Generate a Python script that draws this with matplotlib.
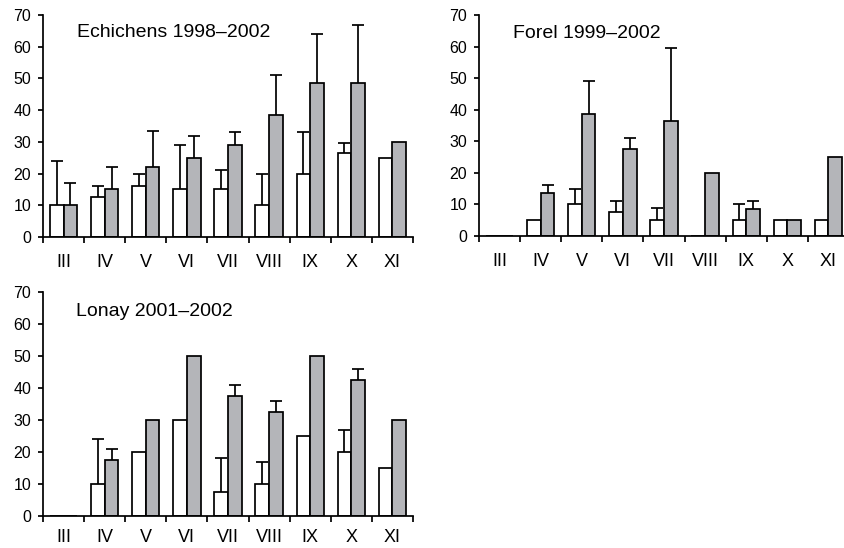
import numpy as np
import matplotlib
matplotlib.use("Agg")
import matplotlib.pyplot as plt

months = ["III", "IV", "V", "VI", "VII", "VIII", "IX", "X", "XI"]

# Echichens 1998–2002
ech_white = [10, 12.5, 16, 15, 15, 10, 20, 26.5, 25]
ech_white_top = [24, 16, 20, 29, 21, 20, 33, 29.5, np.nan]
ech_gray = [10, 15, 22, 25, 29, 38.5, 48.5, 48.5, 30]
ech_gray_top = [17, 22, 33.5, 32, 33, 51, 64, 67, np.nan]

# Forel 1999–2002
for_white = [0, 5, 10, 7.5, 5, 0, 5, 5, 5]
for_white_top = [np.nan, np.nan, 15, 11, 9, np.nan, 10, np.nan, np.nan]
for_gray = [0, 13.5, 38.5, 27.5, 36.5, 20, 8.5, 5, 25]
for_gray_top = [np.nan, 16, 49, 31, 59.5, np.nan, 11, np.nan, np.nan]

# Lonay 2001–2002
lon_white = [0, 10, 20, 30, 7.5, 10, 25, 20, 15]
lon_white_top = [np.nan, 24, np.nan, np.nan, 18, 17, np.nan, 27, np.nan]
lon_gray = [0, 17.5, 30, 50, 37.5, 32.5, 50, 42.5, 30]
lon_gray_top = [np.nan, 21, np.nan, np.nan, 41, 36, np.nan, 46, np.nan]

titles = ["Echichens 1998\u20132002", "Forel 1999\u20132002", "Lonay 2001\u20132002"]
yticks = [0, 10, 20, 30, 40, 50, 60, 70]

GRAY = "#b4b5b9"
plt.rcParams["font.family"] = ["Liberation Sans", "DejaVu Sans"]

fig = plt.figure(figsize=(8.44, 5.48), dpi=100)
W, H = 844, 548


def add_axes(left_px, right_px, top_px, bottom_px):
    return fig.add_axes([left_px / W, 1 - bottom_px / H,
                         (right_px - left_px) / W, (bottom_px - top_px) / H])


axes = [add_axes(43, 413, 15, 237), add_axes(479, 849, 15, 236), add_axes(43, 413, 292, 516)]
data = [
    (ech_white, ech_white_top, ech_gray, ech_gray_top),
    (for_white, for_white_top, for_gray, for_gray_top),
    (lon_white, lon_white_top, lon_gray, lon_gray_top),
]
title_pos = [(0.091, 0.902), (0.093, 0.896), (0.090, 0.893)]
xpads = [12, 12, 9.5]

bw = 1 / 3
x = np.arange(len(months))
LW = 1.25

for ax, (w, wt, g, gt), title, tp, xpad in zip(axes, data, titles, title_pos, xpads):
    ax.bar(x - bw / 2, w, width=bw, color="white", edgecolor="black", linewidth=LW, zorder=2)
    ax.bar(x + bw / 2, g, width=bw, color=GRAY, edgecolor="black", linewidth=LW, zorder=2)
    for off, vals, tops in [(-bw / 2, w, wt), (bw / 2, g, gt)]:
        vals = np.asarray(vals, float)
        tops = np.asarray(tops, float)
        m = ~np.isnan(tops)
        if m.any():
            err = np.vstack([np.zeros(m.sum()), tops[m] - vals[m]])
            _, caps, _ = ax.errorbar(x[m] + off, vals[m], yerr=err, fmt="none",
                                     ecolor="black", elinewidth=LW, capsize=4.6,
                                     capthick=LW, zorder=3)
            if len(caps) >= 2:
                caps[0].set_visible(False)
    ax.set_xlim(-0.5, len(months) - 0.5)
    ax.set_ylim(0, 70)
    ax.set_yticks(yticks)
    ax.set_xticks(np.arange(len(months) + 1) - 0.5)
    ax.set_xticklabels([])
    ax.set_xticks(x, minor=True)
    ax.set_xticklabels(months, minor=True)
    ax.tick_params(axis="x", which="major", direction="out", length=4, width=LW)
    ax.tick_params(axis="x", which="minor", length=0, pad=xpad, labelsize=13)
    ax.tick_params(axis="y", direction="out", length=3.6, width=LW, pad=5, labelsize=11.5)
    for s in ["top", "right"]:
        ax.spines[s].set_visible(False)
    for s in ["left", "bottom"]:
        ax.spines[s].set_linewidth(LW)
    ax.text(tp[0], tp[1], title, transform=ax.transAxes, fontsize=14,
            ha="left", va="baseline")

fig.savefig("out.png", dpi=100)
